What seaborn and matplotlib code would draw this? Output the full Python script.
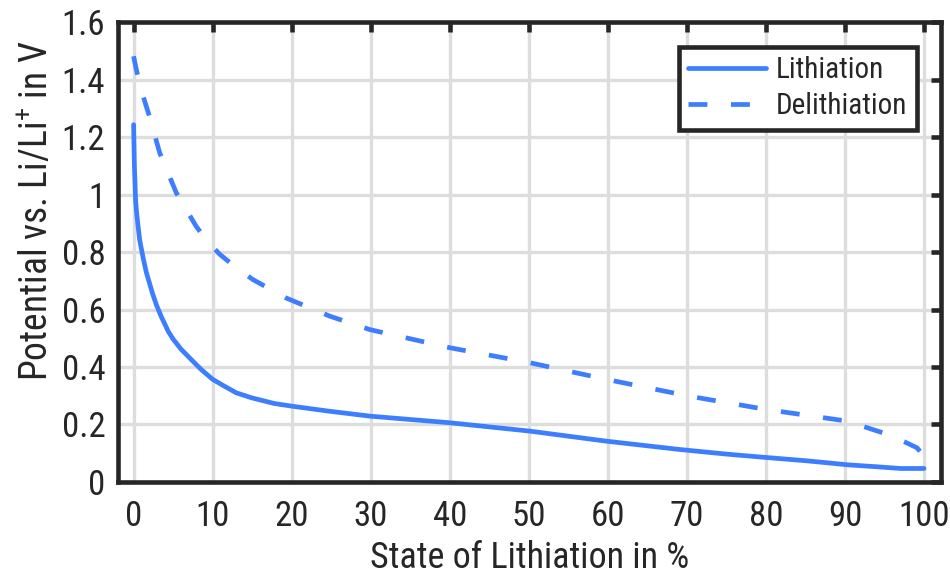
import matplotlib
matplotlib.use("Agg")
import matplotlib.pyplot as plt
from matplotlib import font_manager
from matplotlib.ticker import FuncFormatter
import pandas as pd
import seaborn as sns

# State of lithiation (%) and electrode potential (V) for each half-cycle
lith_soc = [0.0, 0.1, 0.25, 0.4, 0.76, 1.2, 1.6, 2.4, 2.9, 3.5, 4.4, 5.0, 6.0, 7.5, 8.6,
            10.0, 11.5, 13.0, 14.9, 17.8, 20.2, 24.8, 29.9, 40.0, 50.1, 59.8, 69.1,
            75.0, 80.1, 85.0, 87.3, 90.2, 94.0, 97.0, 100.0]
lith_pot = [1.243, 1.10, 0.98, 0.93, 0.843, 0.78, 0.73, 0.655, 0.615, 0.575, 0.523, 0.497,
            0.462, 0.42, 0.39, 0.357, 0.333, 0.31, 0.293, 0.273, 0.263, 0.246, 0.229,
            0.206, 0.177, 0.142, 0.113, 0.097, 0.085, 0.074, 0.068, 0.060, 0.053,
            0.047, 0.047]

delith_soc = [0.0, 0.34, 1.0, 2.0, 3.3, 5.4, 7.9, 9.3, 10.9, 13.0, 15.1, 19.3, 24.8, 29.9,
              40.0, 50.1, 59.8, 70.4, 80.1, 90.2, 94.8, 97.5, 99.1, 100.0, 100.2]
delith_pot = [1.481, 1.435, 1.36, 1.272, 1.145, 1.006, 0.890, 0.838, 0.792, 0.745, 0.704,
              0.640, 0.577, 0.530, 0.467, 0.415, 0.357, 0.298, 0.252, 0.212, 0.171, 0.14,
              0.119, 0.09, 0.067]

series_names = ["Lithiation", "Delithiation"]
x_ticks = [0, 10, 20, 30, 40, 50, 60, 70, 80, 90, 100]
y_ticks = [0, 0.2, 0.4, 0.6, 0.8, 1.0, 1.2, 1.4, 1.6]

df = pd.concat([
    pd.DataFrame({"soc": lith_soc, "pot": lith_pot, "curve": series_names[0]}),
    pd.DataFrame({"soc": delith_soc, "pot": delith_pot, "curve": series_names[1]}),
], ignore_index=True)


def pick_font(names):
    for n in names:
        try:
            font_manager.findfont(n, fallback_to_default=False)
            return n
        except Exception:
            continue
    return "DejaVu Sans"


sns.set_theme(style="white")
family = pick_font(["Roboto Condensed", "Liberation Sans Narrow", "Roboto", "DejaVu Sans"])
plt.rcParams["font.family"] = [family, "DejaVu Sans"]
plt.rcParams["mathtext.default"] = "regular"

blue = "#3d7eff"
ink = "#262626"

fig = plt.figure(figsize=(9.5, 5.8), dpi=100)
ax = fig.add_axes([0.124, 0.169, 0.867, 0.793])

sns.lineplot(data=df, x="soc", y="pot", style="curve", style_order=series_names,
             dashes={"Lithiation": "", "Delithiation": (4.0, 5.0)},
             color=blue, linewidth=3.4, sort=False, estimator=None, ax=ax)

ax.set_xlim(-2, 102.2)
ax.set_ylim(0, 1.6)
ax.set_xticks(x_ticks)
ax.set_yticks(y_ticks)
ax.yaxis.set_major_formatter(FuncFormatter(lambda v, p: f"{v:g}"))

ax.grid(True, color="#dddddd", linewidth=2.4)
ax.set_axisbelow(True)

for s in ax.spines.values():
    s.set_visible(True)
    s.set_color(ink)
    s.set_linewidth(3.3)

ax.tick_params(axis="both", which="major", direction="in", length=7, width=3.3,
               color=ink, top=True, right=True, labelsize=25, labelcolor=ink)
ax.tick_params(axis="x", pad=13)
ax.tick_params(axis="y", pad=9)

ax.set_xlabel("State of Lithiation in %", fontsize=26, color=ink, labelpad=5)
ax.set_ylabel("Potential vs. Li/Li$^{+}$ in V", fontsize=27, color=ink, labelpad=4)
ax.yaxis.label.set_y(0.59)

leg = ax.legend(loc="upper right", fontsize=21, frameon=True, fancybox=False,
                handlelength=2.65, borderpad=0.32, labelspacing=0.28, handletextpad=0.35,
                borderaxespad=0.85, title=None)
leg.get_frame().set_edgecolor(ink)
leg.get_frame().set_linewidth(3.3)
leg.get_frame().set_facecolor("white")
leg.get_frame().set_alpha(1.0)
for t in leg.get_texts():
    t.set_color(ink)

fig.savefig("out.png", dpi=100)
